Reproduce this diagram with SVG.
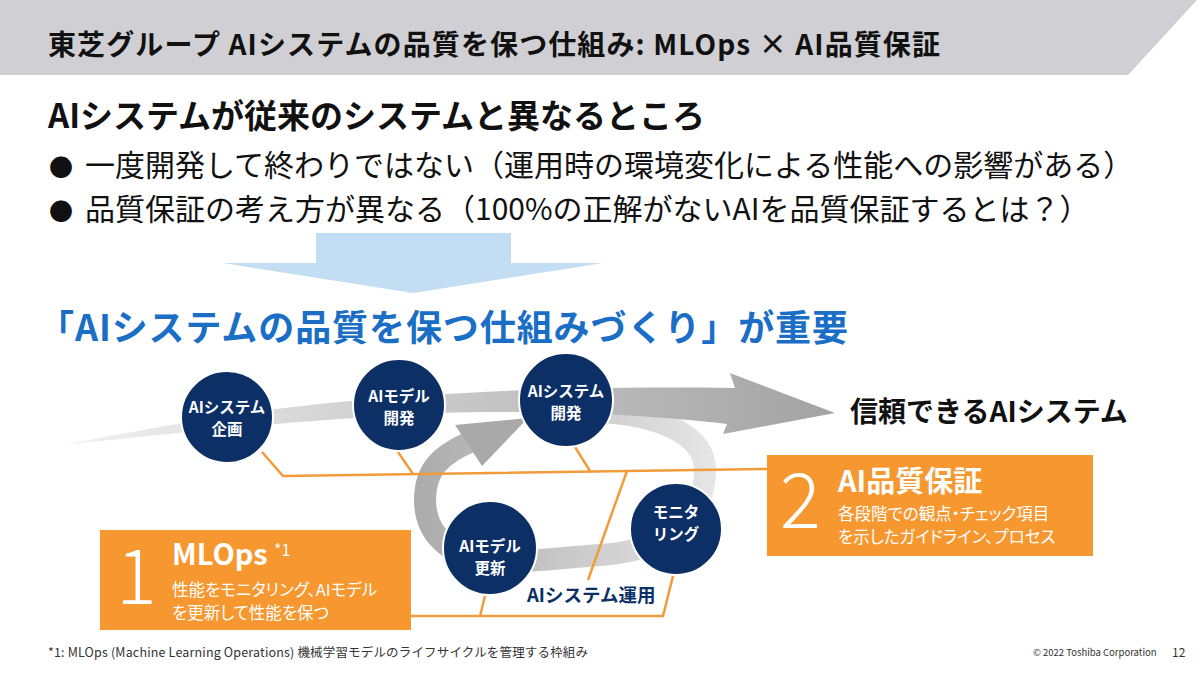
<svg xmlns="http://www.w3.org/2000/svg" width="1200" height="675" viewBox="0 0 1200 675">
<defs>
<style>
text{font-family:'Noto Sans CJK JP','Noto Sans',sans-serif;}
.b{font-weight:700;}
.node circle{fill:#0c2f66;stroke:#ffffff;stroke-width:2;}
.node text{fill:#ffffff;font-size:15.5px;font-weight:700;text-anchor:middle;}
.ol{fill:none;stroke:#f29b3a;stroke-width:2.5;}
.box{fill:#f7972f;}
.wt{fill:#ffffff;}
.sub{font-size:16.5px;font-feature-settings:"palt";}
</style>
<linearGradient id="gSw" gradientUnits="userSpaceOnUse" x1="63" y1="0" x2="835" y2="0">
<stop offset="0" stop-color="#f2f2f2"/>
<stop offset="0.45" stop-color="#cccccc"/>
<stop offset="1" stop-color="#a3a3a3"/>
</linearGradient>
<linearGradient id="gLp" gradientUnits="userSpaceOnUse" x1="420" y1="0" x2="715" y2="0">
<stop offset="0" stop-color="#acacac"/>
<stop offset="1" stop-color="#e6e6e6"/>
</linearGradient>
</defs>
<rect x="0" y="0" width="1200" height="675" fill="#ffffff"/>
<polygon points="0,0 1197,0 1128,75 0,75" fill="#d0cfd4"/>
<text x="48" y="55" class="b" font-size="28" fill="#111111" textLength="892">東芝グループ AIシステムの品質を保つ仕組み: MLOps × AI品質保証</text>
<text x="48" y="128" class="b" font-size="33" fill="#111111">AIシステムが従来のシステムと異なるところ</text>
<text y="176" font-size="30" fill="#111111"><tspan x="49" font-size="24">●</tspan><tspan x="85">一度開発して終わりではない（運用時の環境変化による性能への影響がある）</tspan></text>
<text y="220" font-size="30" fill="#111111"><tspan x="49" font-size="24">●</tspan><tspan x="85">品質保証の考え方が異なる（100%の正解がないAIを品質保証するとは？）</tspan></text>
<polygon points="316,233 511,233 511,263 603,263 413,293 223,263 316,263" fill="#c3def2"/>
<text x="38" y="341" class="b" font-size="36" fill="#1a6ec6" textLength="810">「AIシステムの品質を保つ仕組みづくり」が重要</text>
<g id="loop">
<path d="M600,412 C660,415 705,435 705,470 C705,530 650,552 600,555 C560,558 530,562 500,562 C460,562 425,540 425,500 C425,470 440,455 470,442" fill="none" stroke="url(#gLp)" stroke-width="22"/>
<polygon points="455,425 528,418 482,466" fill="#a9a9a9"/>
</g>
<g id="swoosh">
<path d="M63,445 C150,428 250,410 340,402 C450,392 560,386 735,388 L730,373 L835,413 L723,434 L727,424 C640,413 520,410 440,413 C330,418 200,430 63,445 Z" fill="url(#gSw)"/>
</g>
<g id="connectors">
<polyline class="ol" points="262,452 283,476 767,469"/>
<line class="ol" x1="398" y1="452" x2="413" y2="474"/>
<line class="ol" x1="575" y1="447" x2="590" y2="471"/>
<line class="ol" x1="627" y1="471" x2="588" y2="580"/>
<polyline class="ol" points="411,616 663,616 673,576"/>
<line class="ol" x1="480" y1="616" x2="485" y2="596"/>
</g>
<g id="n1" class="node"><circle cx="227" cy="417" r="46"/><text x="227" y="413">AIシステム</text><text x="227" y="435">企画</text></g>
<g id="n2" class="node"><circle cx="399" cy="405" r="46"/><text x="399" y="402">AIモデル</text><text x="399" y="424">開発</text></g>
<g id="n3" class="node"><circle cx="566" cy="400" r="47"/><text x="566" y="397">AIシステム</text><text x="566" y="419">開発</text></g>
<g id="n4" class="node"><circle cx="490" cy="548" r="47"/><text x="490" y="552">AIモデル</text><text x="490" y="574">更新</text></g>
<g id="n5" class="node"><circle cx="676" cy="529" r="46"/><text x="676" y="518">モニタ</text><text x="676" y="540">リング</text></g>
<text id="ops" x="527" y="602" class="b" font-size="18.5" fill="#0c2f66">AIシステム運用</text>
<text id="goal" x="850" y="422" class="b" font-size="28" fill="#111111">信頼できるAIシステム</text>
<g id="box1">
<rect class="box" x="100" y="530" width="311" height="100"/>
<text x="116" y="604" class="wt" font-size="76" font-weight="300">1</text>
<text x="172" y="565" class="wt b" font-size="29">MLOps</text>
<text x="274" y="556" class="wt" font-size="16">*1</text>
<text x="172" y="596" class="wt sub">性能をモニタリング、AIモデル</text>
<text x="172" y="619" class="wt sub">を更新して性能を保つ</text>
</g>
<g id="box2">
<rect class="box" x="767" y="455" width="326" height="101"/>
<text x="780" y="528" class="wt" font-size="76" font-weight="300">2</text>
<text x="838" y="492" class="wt b" font-size="29">AI品質保証</text>
<text x="838" y="520" class="wt sub">各段階での観点・チェック項目</text>
<text x="838" y="543" class="wt sub">を示したガイドライン、プロセス</text>
</g>
<text x="48" y="657" font-size="12.5" fill="#333333" textLength="540">*1: MLOps (Machine Learning Operations) 機械学習モデルのライフサイクルを管理する枠組み</text>
<text x="1033" y="656" font-size="9.5" fill="#333333">© 2022 Toshiba Corporation</text>
<text x="1172" y="657" font-size="12" fill="#333333">12</text>
</svg>
